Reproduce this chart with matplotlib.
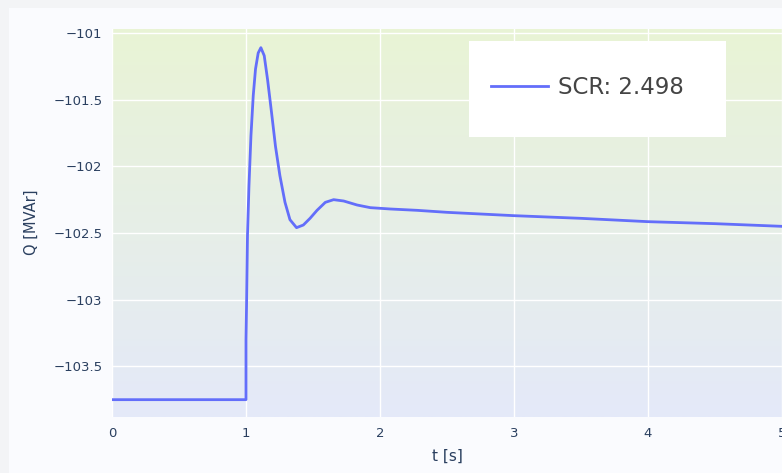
import matplotlib
matplotlib.use("Agg")
import matplotlib.pyplot as plt
import numpy as np
from matplotlib.patches import Rectangle

# time [s] and reactive power [MVAr]
t = [0.0, 0.5, 1.0, 1.0, 1.004, 1.011, 1.022, 1.037, 1.054, 1.071, 1.091, 1.111,
     1.136, 1.161, 1.191, 1.220, 1.253, 1.291, 1.328, 1.377, 1.428, 1.478, 1.530,
     1.592, 1.654, 1.729, 1.829, 1.928, 2.078, 2.277, 2.5, 3.0, 3.5, 4.0, 4.5, 5.0]
q = [-103.75, -103.75, -103.75, -103.3, -103.05, -102.52, -102.15, -101.77, -101.47,
     -101.27, -101.15, -101.11, -101.17, -101.35, -101.60, -101.85, -102.07, -102.27,
     -102.40, -102.46, -102.44, -102.39, -102.33, -102.27, -102.25, -102.26, -102.29,
     -102.31, -102.32, -102.33, -102.345, -102.37, -102.39, -102.415, -102.43, -102.45]
series_name = "SCR: 2.498"

x_ticks = [0, 1, 2, 3, 4, 5]
y_ticks = [-103.5, -103, -102.5, -102, -101.5, -101]
y_labels = ["\u2212103.5", "\u2212103", "\u2212102.5", "\u2212102", "\u2212101.5", "\u2212101"]

plt.rcParams['font.family'] = ['DejaVu Sans']

W, H = 782, 473
fig = plt.figure(figsize=(W / 100, H / 100), dpi=100, facecolor='#f3f4f6')
# inner paper
fig.patches.append(Rectangle((9 / W, 0), 1, 1 - 8 / H, transform=fig.transFigure,
                             facecolor='#fafbfe', edgecolor='none', zorder=-10))

# plot area: x 112..782 px, y 29..417 px
ax = fig.add_axes([112 / W, 1 - 417 / H, 1 - 112 / W, (417 - 29) / H])
ax.set_xlim(0, 5.0)
ax.set_ylim(-103.88, -100.97)

# vertical gradient background
top = np.array([233, 244, 213]) / 255
bot = np.array([228, 233, 249]) / 255
g = np.linspace(0, 1, 256)[:, None]
img = (top * (1 - g) + bot * g)[:, None, :]
ax.imshow(img, extent=[0, 5.0, -103.88, -100.97], aspect='auto', zorder=0,
          origin='upper')

ax.set_xticks(x_ticks)
ax.set_yticks(y_ticks)
ax.set_yticklabels(y_labels)
ax.grid(True, color='white', linewidth=1.0, zorder=1)
for s in ax.spines.values():
    s.set_visible(False)
ax.tick_params(length=0, labelsize=9.5, labelcolor='#2a3f5f', pad=7)

ax.plot(t, q, color='#636efa', linewidth=2, label=series_name, zorder=3,
        solid_joinstyle='round')

ax.set_xlabel("t [s]", fontsize=11, color='#2a3f5f')
ax.set_ylabel("Q [MVAr]", fontsize=10.5, color='#2a3f5f')
ax.xaxis.set_label_coords(0.5, -(449 - 417) / 388)
ax.yaxis.set_label_coords(-(112 - 39) / 670, (417 - 222) / 388)

# legend box
ax.add_patch(Rectangle(((469 - 112) / 670, (417 - 137) / 388), (726 - 469) / 670, 96 / 388,
                       transform=ax.transAxes, facecolor='white', edgecolor='none',
                       zorder=4))
fs = 16.5
leg = ax.legend(loc='center left', bbox_to_anchor=((491 - 112) / 670, (417 - 88) / 388),
                fontsize=fs, frameon=False, borderpad=0, borderaxespad=0,
                handlelength=57 / (fs * 100 / 72), handletextpad=0.45,
                labelcolor='#444444')
leg.set_zorder(5)

fig.savefig("out.png", dpi=100, facecolor=fig.get_facecolor())
